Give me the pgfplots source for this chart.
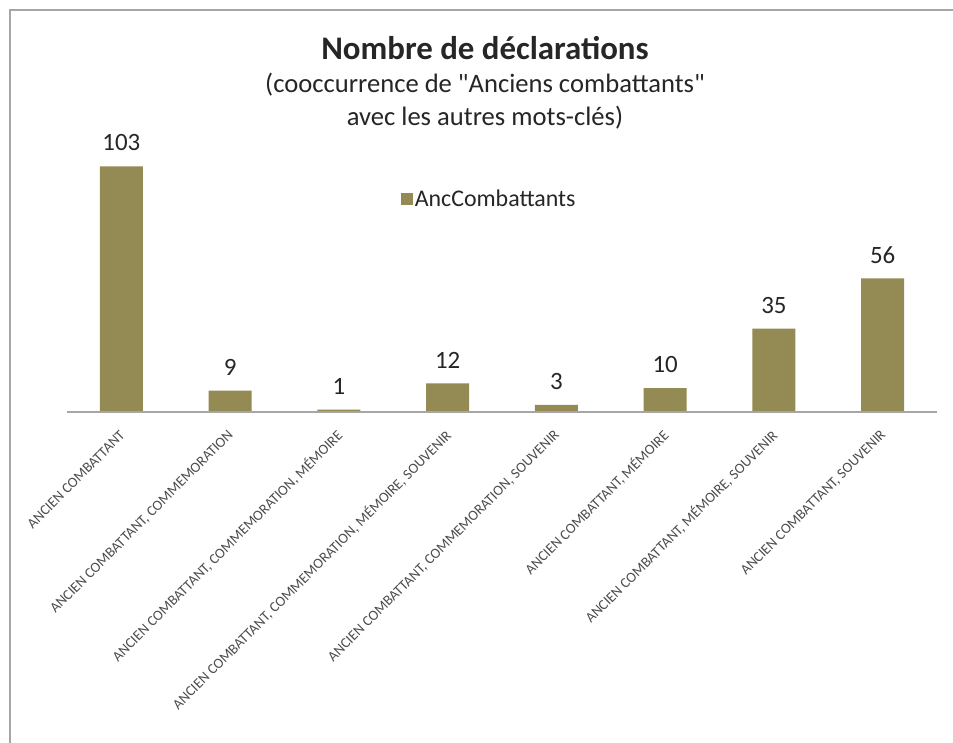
\documentclass[border=0pt]{standalone}
\usepackage{pgfplots}
\pgfplotsset{compat=1.18}
\usepackage{fontspec}
\setmainfont{Carlito}
\definecolor{barcol}{HTML}{948A54}
\definecolor{framegray}{HTML}{A6A6A6}

\begin{document}
\begin{tikzpicture}
\useasboundingbox (0,0) rectangle (953bp,743bp);
\fill[white] (0,0) rectangle (953bp,743bp);
% cadre du graphique (seulement haut et gauche visibles)
\draw[framegray, line width=2.5bp] (10bp,0) -- (10bp,733bp) -- (953bp,733bp);
\node[font=\fontsize{33}{36}\selectfont\bfseries, text=black!85] at (485bp,695bp) {Nombre de déclarations};
\node[font=\fontsize{26.7}{33}\selectfont, align=center, text=black!85] at (485bp,641.5bp)
  {(cooccurrence de \textquotedbl Anciens combattants\textquotedbl\\avec les autres mots-clés)};
\begin{axis}[
    at={(67bp,331bp)}, anchor=south west,
    width=870bp, height=286.2bp, scale only axis,
    xmin=-0.5, xmax=7.5, ymin=0, ymax=120,
    axis y line=none, axis x line*=bottom, axis on top,
    x axis line style={framegray, line width=2bp, -},
    ybar, bar width=43bp,
    xtick=data, major tick length=0,
    xticklabels={
        {ANCIEN COMBATTANT},
        {ANCIEN COMBATTANT, COMMEMORATION},
        {ANCIEN COMBATTANT, COMMEMORATION, MÉMOIRE},
        {ANCIEN COMBATTANT, COMMEMORATION, MÉMOIRE, SOUVENIR},
        {ANCIEN COMBATTANT, COMMEMORATION, SOUVENIR},
        {ANCIEN COMBATTANT, MÉMOIRE},
        {ANCIEN COMBATTANT, MÉMOIRE, SOUVENIR},
        {ANCIEN COMBATTANT, SOUVENIR}},
    xticklabel style={xshift=1bp, yshift=-21bp, rotate=45, anchor=east, inner sep=0pt,
        font=\fontsize{14.5}{16}\selectfont, text=black!70},
    /pgf/number format/assume math mode=true,
    nodes near coords,
    nodes near coords style={font=\fontsize{25}{28}\selectfont, text=black!85,
        anchor=south, inner sep=0pt, yshift=15bp},
    legend style={at={(0.38,0.745)}, anchor=west, draw=none, fill=none,
        font=\fontsize{24}{26}\selectfont, text=black!85},
    legend image code/.code={\fill[barcol] (0bp,-6bp) rectangle (12bp,6bp);},
]
\addplot[fill=barcol, draw=none] coordinates {
    (0,103) (1,9) (2,1) (3,12) (4,3) (5,10) (6,35) (7,56)
};
\addlegendentry{AncCombattants}
\end{axis}
\end{tikzpicture}
\end{document}
